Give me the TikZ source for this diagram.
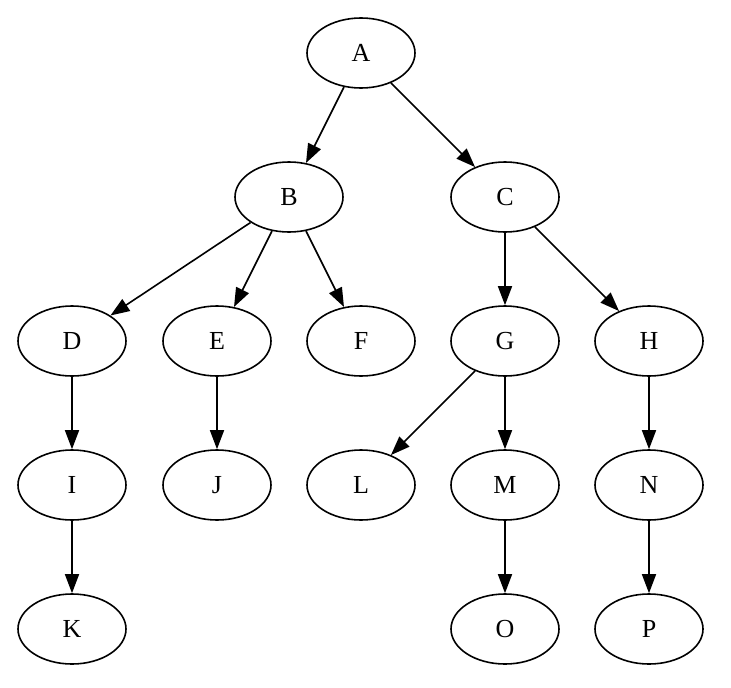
\documentclass[tikz,border=0pt]{standalone}
\usepackage{fontspec}
\setmainfont{Liberation Serif}
\usetikzlibrary{shapes.geometric,arrows.meta}
\begin{document}
\begin{tikzpicture}[x=1pt,y=-1pt,
  tnode/.style={draw,ellipse,line width=1.6pt,minimum width=108pt,minimum height=70pt,inner sep=0pt,font=\fontsize{26}{30}\selectfont},
  tedge/.style={line width=1.6pt,-{Triangle[length=19pt,width=14pt]}}]
\useasboundingbox (0,0) rectangle (731,688);
\node[tnode] (A) at (361,53) {A};
\node[tnode] (B) at (289,197) {B};
\node[tnode] (C) at (505,197) {C};
\node[tnode] (D) at (72,341) {D};
\node[tnode] (E) at (217,341) {E};
\node[tnode] (F) at (361,341) {F};
\node[tnode] (G) at (505,341) {G};
\node[tnode] (H) at (649,341) {H};
\node[tnode] (I) at (72,485) {I};
\node[tnode] (J) at (217,485) {J};
\node[tnode] (L) at (361,485) {L};
\node[tnode] (M) at (505,485) {M};
\node[tnode] (N) at (649,485) {N};
\node[tnode] (K) at (72,629) {K};
\node[tnode] (O) at (505,629) {O};
\node[tnode] (P) at (649,629) {P};
\draw[tedge] (A) -- (B);
\draw[tedge] (A) -- (C);
\draw[tedge] (B) -- (D);
\draw[tedge] (B) -- (E);
\draw[tedge] (B) -- (F);
\draw[tedge] (C) -- (G);
\draw[tedge] (C) -- (H);
\draw[tedge] (D) -- (I);
\draw[tedge] (E) -- (J);
\draw[tedge] (G) -- (L);
\draw[tedge] (G) -- (M);
\draw[tedge] (H) -- (N);
\draw[tedge] (I) -- (K);
\draw[tedge] (M) -- (O);
\draw[tedge] (N) -- (P);
\end{tikzpicture}
\end{document}
